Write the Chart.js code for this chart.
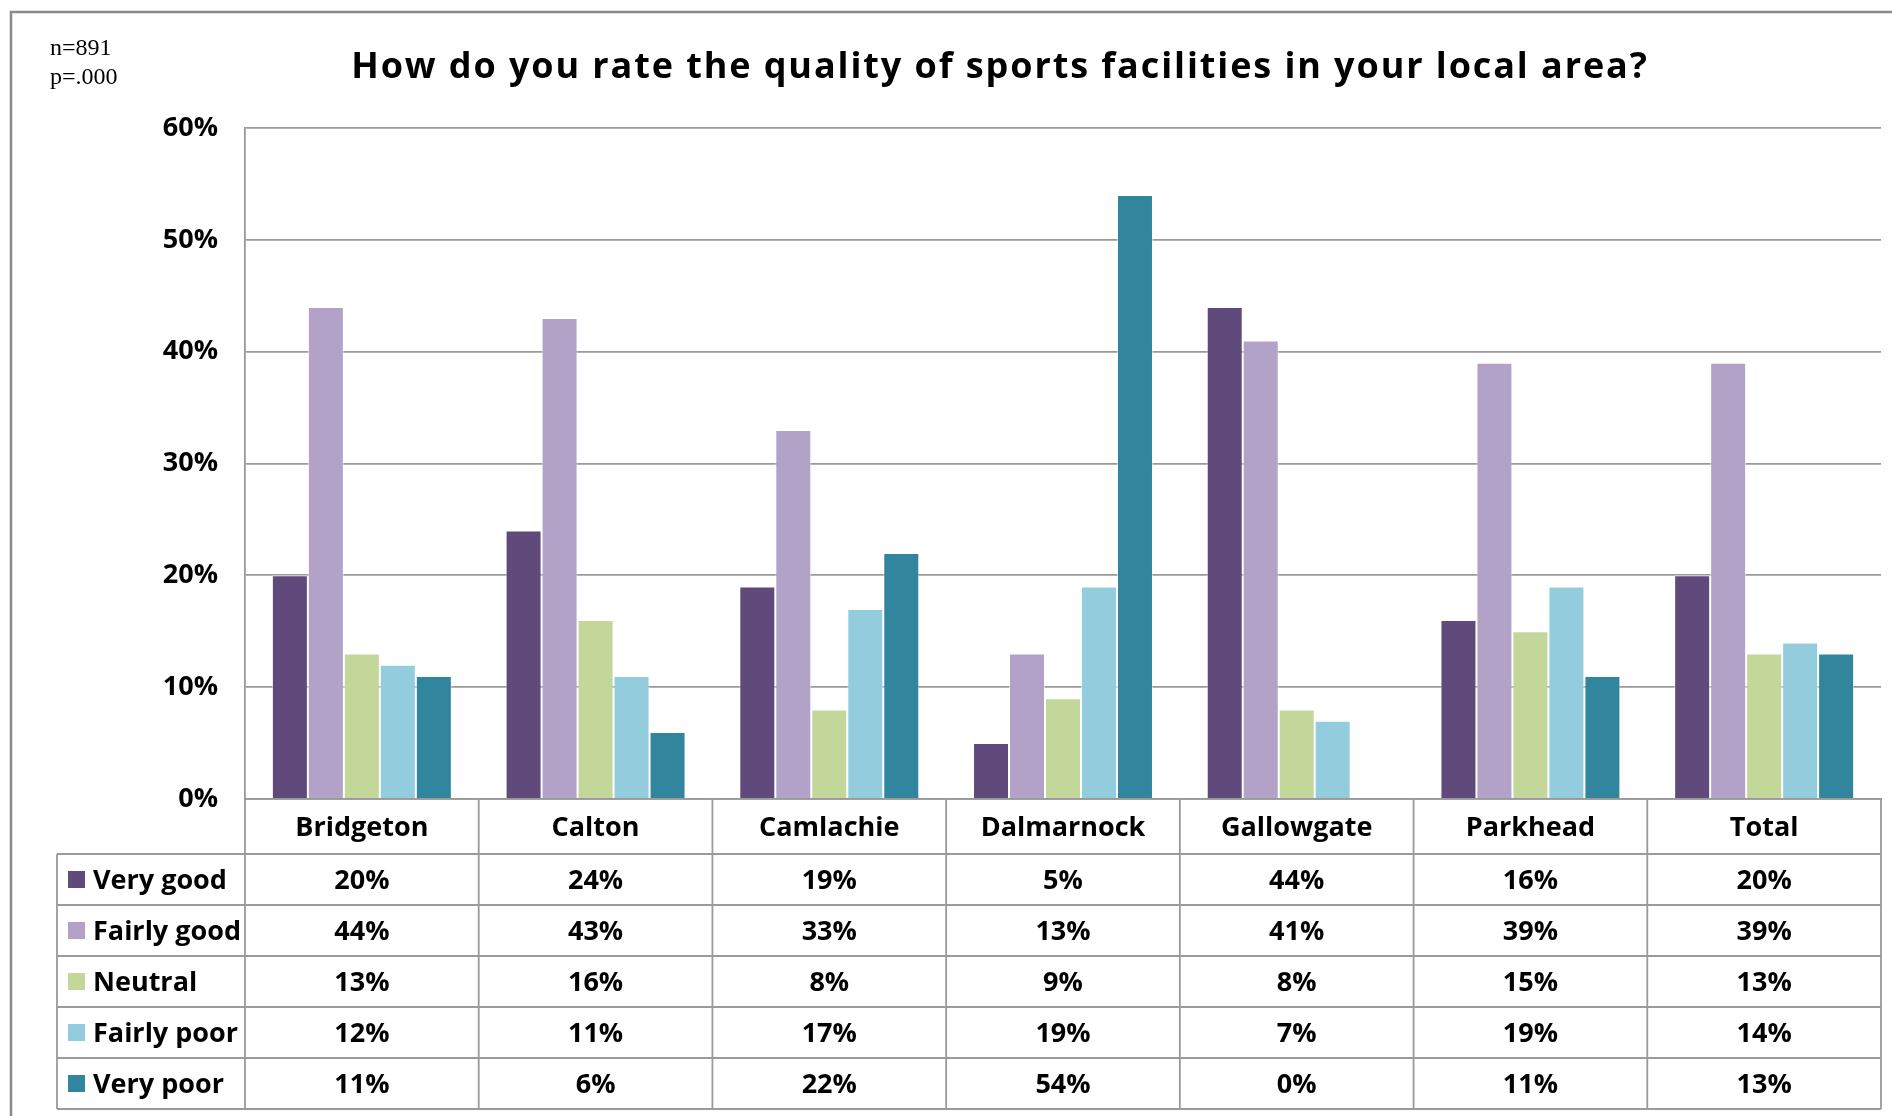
<!DOCTYPE html>
<html>
<head>
<meta charset="utf-8">
<script src="https://cdn.jsdelivr.net/npm/chart.js@4.4.1/dist/chart.umd.min.js"></script>
<style>
  html, body { margin: 0; padding: 0; background: #ffffff; overflow: hidden; }
  canvas { display: block; }
</style>
</head>
<body>
<canvas id="chart" width="1892" height="1116"></canvas>
<script>
// Survey areas and response shares (%)
const categories = ['Bridgeton', 'Calton', 'Camlachie', 'Dalmarnock', 'Gallowgate', 'Parkhead', 'Total'];
const seriesNames = ['Very good', 'Fairly good', 'Neutral', 'Fairly poor', 'Very poor'];
const veryGood   = [20, 24, 19, 5, 44, 16, 20];
const fairlyGood = [44, 43, 33, 13, 41, 39, 39];
const neutral    = [13, 16, 8, 9, 8, 15, 13];
const fairlyPoor = [12, 11, 17, 19, 7, 19, 14];
const veryPoor   = [11, 6, 22, 54, 0, 11, 13];
const yTickValues = [0, 10, 20, 30, 40, 50, 60];
const seriesColors = ['#604A7B', '#B3A2C7', '#C4D79B', '#93CDDD', '#31859C'];
const sampleNotes = ['n=891', 'p=.000'];
const titleText = 'How do you rate the quality of sports facilities in your local area?';

const seriesValues = [veryGood, fairlyGood, neutral, fairlyPoor, veryPoor];

const FONT = "'Open Sans', Lato, sans-serif";
const LINE = '#9a9a9a';

// Frame, title, notes and the data table underneath the bars
const tablePlugin = {
  id: 'dataTable',
  beforeDraw(chart) {
    const ctx = chart.ctx;
    ctx.save();
    ctx.fillStyle = '#ffffff';
    ctx.fillRect(0, 0, chart.width, chart.height);
    ctx.strokeStyle = '#8a8a8a';
    ctx.lineWidth = 2.5;
    ctx.beginPath();
    ctx.moveTo(11, chart.height + 5);
    ctx.lineTo(11, 12);
    ctx.lineTo(chart.width + 5, 12);
    ctx.stroke();
    ctx.restore();
  },
  afterDraw(chart) {
    const ctx = chart.ctx;
    const xs = chart.scales.x;
    const area = chart.chartArea;
    ctx.save();

    // title
    ctx.fillStyle = '#000000';
    ctx.font = "bold 36px " + FONT;
    ctx.letterSpacing = '1.9px';
    ctx.textAlign = 'center';
    ctx.textBaseline = 'alphabetic';
    ctx.fillText(titleText, 1000, 78);
    ctx.letterSpacing = '0px';

    // sample notes
    ctx.font = "24px 'Liberation Serif', serif";
    ctx.textAlign = 'left';
    ctx.fillText(sampleNotes[0], 50, 55);
    ctx.fillText(sampleNotes[1], 50, 84);

    // table geometry
    const half = (xs.getPixelForValue(1) - xs.getPixelForValue(0)) / 2;
    const headTop = xs.bottom;
    const rowH = 51;
    const tableLeft = 57;
    const tableBottom = headTop + rowH * seriesNames.length;

    ctx.strokeStyle = LINE;
    ctx.lineWidth = 1.8;
    ctx.beginPath();
    // horizontal rules
    for (let r = 0; r <= seriesNames.length; r++) {
      const y = headTop + r * rowH;
      ctx.moveTo(tableLeft, y);
      ctx.lineTo(area.right, y);
    }
    // column rules (category row included)
    for (let i = 0; i <= categories.length; i++) {
      const x = i === 0 ? area.left : xs.getPixelForValue(i - 1) + half;
      ctx.moveTo(x, area.bottom);
      ctx.lineTo(x, tableBottom);
    }
    ctx.moveTo(tableLeft, headTop);
    ctx.lineTo(tableLeft, tableBottom);
    ctx.stroke();

    // rows: legend key, label, values
    ctx.font = "bold 27px " + FONT;
    ctx.textBaseline = 'alphabetic';
    seriesNames.forEach((name, r) => {
      const cy = headTop + r * rowH + rowH / 2;
      ctx.fillStyle = seriesColors[r];
      ctx.fillRect(68, cy - 8.5, 17, 17);
      ctx.fillStyle = '#000000';
      ctx.textAlign = 'left';
      ctx.fillText(name, 93, cy + 9);
      ctx.textAlign = 'center';
      seriesValues[r].forEach((v, i) => {
        ctx.fillText(v + '%', xs.getPixelForValue(i), cy + 9);
      });
    });
    ctx.restore();
  }
};

const datasets = seriesNames.map((name, i) => ({
  label: name,
  data: seriesValues[i],
  backgroundColor: seriesColors[i],
  borderColor: 'rgba(255,255,255,0.55)',
  borderWidth: 1,
  barPercentage: 1,
  categoryPercentage: 0.77
}));

new Chart(document.getElementById('chart'), {
  type: 'bar',
  data: { labels: categories, datasets },
  options: {
    responsive: false,
    animation: false,
    devicePixelRatio: 1,
    layout: { padding: { top: 128, left: 0, right: 11, bottom: 262 } },
    plugins: {
      legend: { display: false },
      title: { display: false },
      tooltip: { enabled: false }
    },
    scales: {
      x: {
        grid: { display: false, drawTicks: false },
        border: { display: true, color: LINE, width: 1.8 },
        ticks: {
          color: '#000000',
          font: { family: FONT, size: 27, weight: 'bold' },
          padding: 13,
          maxRotation: 0
        },
        afterFit(scale) { scale.height = 55; }
      },
      y: {
        min: 0,
        max: 60,
        afterBuildTicks(scale) { scale.ticks = yTickValues.map(v => ({ value: v })); },
        grid: { color: LINE, lineWidth: 1.8, drawTicks: false },
        border: { display: true, color: LINE, width: 1.8 },
        ticks: {
          color: '#000000',
          font: { family: FONT, size: 27, weight: 'bold' },
          padding: 27,
          callback: v => v + '%'
        },
        afterFit(scale) { scale.width = 245; }
      }
    }
  },
  plugins: [tablePlugin]
});
</script>
</body>
</html>
